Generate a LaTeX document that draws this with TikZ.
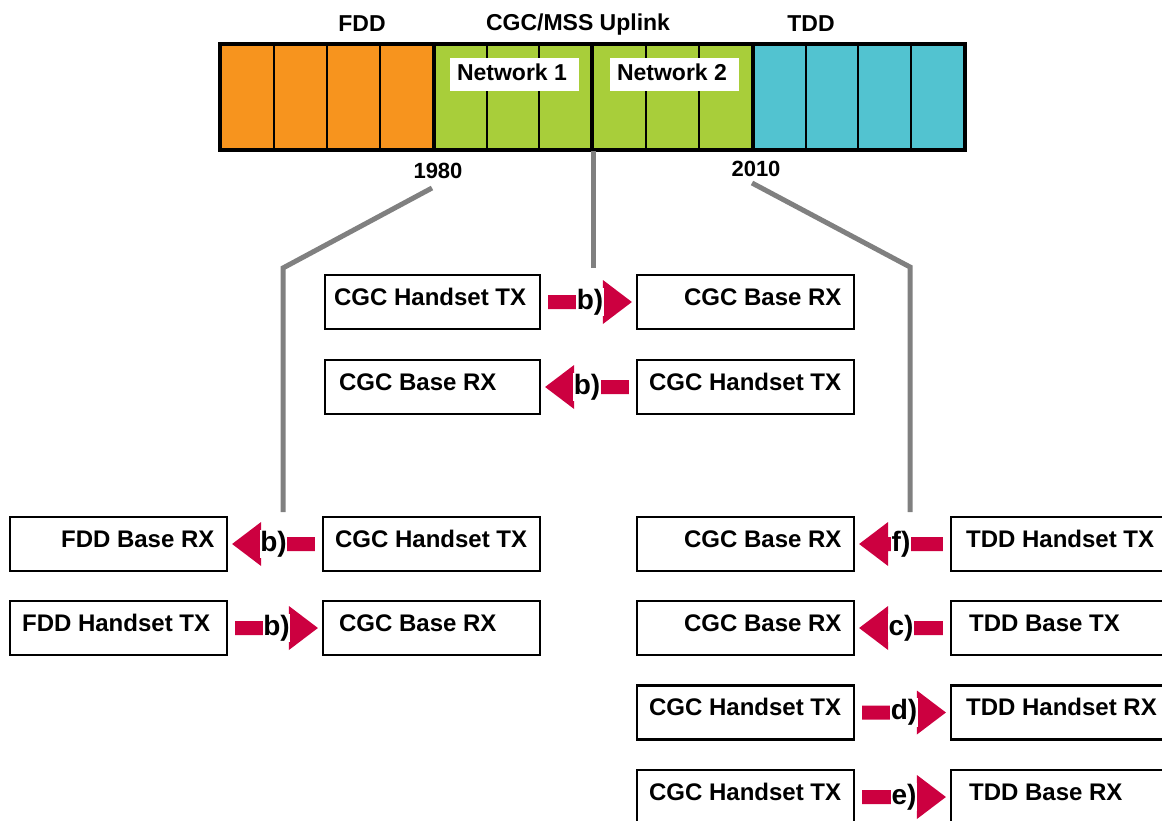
\documentclass[tikz,border=0pt]{standalone}
\usepackage{fontspec}
\setmainfont{Liberation Sans}
\usetikzlibrary{calc}
\definecolor{fddor}{RGB}{247,148,30}
\definecolor{cgcgr}{RGB}{168,206,58}
\definecolor{tddbl}{RGB}{82,195,208}
\definecolor{arrred}{RGB}{204,0,64}
\definecolor{lngray}{RGB}{128,128,128}
\newcommand{\rarr}[3]{%
  \coordinate (S) at ($(#1.east)+(7,0)$);
  \coordinate (T) at ($(#2.west)+(-4,0)$);
  \fill[arrred] ($(S)+(0,-7)$) -- ($(T)+(-29,-7)$) -- ($(T)+(-29,-22)$) -- (T) -- ($(T)+(-29,22)$) -- ($(T)+(-29,7)$) -- ($(S)+(0,7)$) -- cycle;
  \node[arrlbl] at ($(S)!0.5!(T)$) {#3};
}
\newcommand{\larr}[3]{%
  \coordinate (S) at ($(#1.west)+(-7,0)$);
  \coordinate (T) at ($(#2.east)+(4,0)$);
  \fill[arrred] ($(S)+(0,-7)$) -- ($(T)+(29,-7)$) -- ($(T)+(29,-22)$) -- (T) -- ($(T)+(29,22)$) -- ($(T)+(29,7)$) -- ($(S)+(0,7)$) -- cycle;
  \node[arrlbl] at ($(S)!0.5!(T)$) {#3};
}
\begin{document}
\begin{tikzpicture}[x=1pt,y=-1pt,
  box/.style={draw=black, line width=2.2pt, minimum height=54pt, inner sep=0pt},
  txt/.style={font=\fontsize{24}{28}\selectfont\bfseries, inner sep=0pt, anchor=base west},
  hdr/.style={font=\fontsize{23}{26}\selectfont\bfseries, inner sep=0pt, anchor=base},
  yr/.style={font=\fontsize{22}{26}\selectfont\bfseries, inner sep=0pt, anchor=base},
  netbox/.style={fill=white, minimum width=129pt, minimum height=33pt, inner sep=0pt},
  arrlbl/.style={font=\fontsize{28}{30}\selectfont\bfseries, fill=white, inner xsep=0.5pt, inner ysep=1pt},
  grayln/.style={draw=lngray, line width=5pt},
  thinl/.style={line width=2pt},
  thickl/.style={line width=3.2pt}]
\useasboundingbox (0,0) rectangle (1162,821);
% band
\fill[fddor] (220,44) rectangle (434,150);
\fill[cgcgr] (434,44) rectangle (753,150);
\fill[tddbl] (753,44) rectangle (965,150);
\foreach \x in {274,327,380,487,539,646,699,806,858,911} \draw[thinl] (\x,44) -- (\x,150);
\foreach \x in {434,592,753} \draw[thickl] (\x,44) -- (\x,150);
\draw[thickl] (220,44) rectangle (965,150);
\node[netbox] (net1) at (514.5,74.5) {};
\node[hdr] (net1t) at (512,80.5) {Network 1};
\node[netbox] (net2) at (674.5,74.5) {};
\node[hdr] (net2t) at (672,80.5) {Network 2};
% headers
\node[hdr] (hfdd) at (362,31.5) {FDD};
\node[hdr] (hcgc) at (578,30.5) {CGC/MSS Uplink};
\node[hdr] (htdd) at (811,31.5) {TDD};
\node[yr] (y1980) at (438,179) {1980};
\node[yr] (y2010) at (756,177) {2010};
% gray connectors
\coordinate (gl0) at (432,188); \coordinate (gl1) at (283,268); \coordinate (gl2) at (283,512);
\draw[grayln] (gl0) -- (gl1) -- (gl2);
\coordinate (gm0) at (593,151); \coordinate (gm1) at (593,268);
\draw[grayln] (gm0) -- (gm1);
\coordinate (gr0) at (752,183); \coordinate (gr1) at (910,267); \coordinate (gr2) at (910,512);
\draw[grayln] (gr0) -- (gr1) -- (gr2);
% middle rows
\node[box, minimum width=215pt] (m1l) at (432.5,302) {};
\node[txt] at ($(m1l.west)+(10,3)$) {CGC Handset TX};
\node[box, minimum width=217pt] (m1r) at (745.5,302) {};
\node[txt] at ($(m1r.west)+(48,3)$) {CGC Base RX};
\node[box, minimum width=215pt] (m2l) at (432.5,387) {};
\node[txt] at ($(m2l.west)+(15,3)$) {CGC Base RX};
\node[box, minimum width=217pt] (m2r) at (745.5,387) {};
\node[txt] at ($(m2r.west)+(13,3)$) {CGC Handset TX};
\rarr{m1l}{m1r}{b)}
\larr{m2r}{m2l}{b)}
% left column
\node[box, minimum width=217pt] (laf) at (118.5,544) {};
\node[txt] at ($(laf.west)+(52,3)$) {FDD Base RX};
\node[box, minimum width=217pt] (lac) at (431.5,544) {};
\node[txt] at ($(lac.west)+(13,3)$) {CGC Handset TX};
\node[box, minimum width=217pt] (lbf) at (118.5,628) {};
\node[txt] at ($(lbf.west)+(13,3)$) {FDD Handset TX};
\node[box, minimum width=217pt] (lbc) at (431.5,628) {};
\node[txt] at ($(lbc.west)+(17,3)$) {CGC Base RX};
\larr{lac}{laf}{b)}
\rarr{lbf}{lbc}{b)}
% right column
\node[box, minimum width=217pt] (rac) at (745.5,544) {};
\node[txt] at ($(rac.west)+(48,3)$) {CGC Base RX};
\node[box, minimum width=224pt] (rat) at (1063,544) {};
\node[txt] at ($(rat.west)+(16,3)$) {TDD Handset TX};
\node[box, minimum width=217pt] (rbc) at (745.5,628) {};
\node[txt] at ($(rbc.west)+(48,3)$) {CGC Base RX};
\node[box, minimum width=224pt] (rbt) at (1063,628) {};
\node[txt] at ($(rbt.west)+(19,3)$) {TDD Base TX};
\node[box, minimum width=217pt] (rcc) at (745.5,712.5) {};
\node[txt] at ($(rcc.west)+(13,3)$) {CGC Handset TX};
\node[box, minimum width=224pt] (rct) at (1063,712.5) {};
\node[txt] at ($(rct.west)+(16,3)$) {TDD Handset RX};
\node[box, minimum width=217pt] (rdc) at (745.5,797) {};
\node[txt] at ($(rdc.west)+(13,3)$) {CGC Handset TX};
\node[box, minimum width=224pt] (rdt) at (1063,797) {};
\node[txt] at ($(rdt.west)+(19,3)$) {TDD Base RX};
\larr{rat}{rac}{f)}
\larr{rbt}{rbc}{c)}
\rarr{rcc}{rct}{d)}
\rarr{rdc}{rdt}{e)}
\end{tikzpicture}
\end{document}
